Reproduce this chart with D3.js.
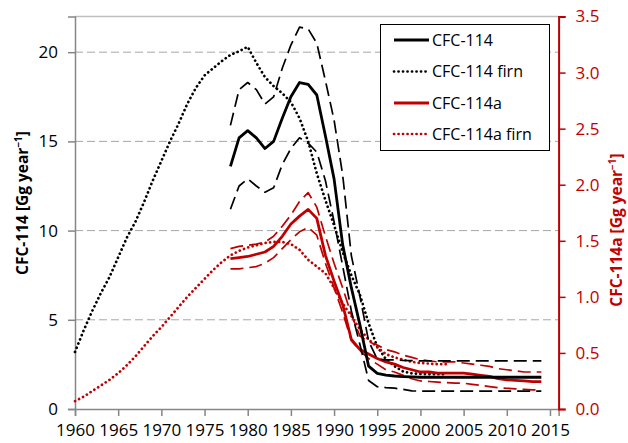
<!DOCTYPE html>
<html><head><meta charset="utf-8">
<script src="https://cdn.jsdelivr.net/npm/d3@7"></script>
<style>
body{margin:0;background:#fff;}
svg{display:block;font-family:"Open Sans",sans-serif;}
</style></head>
<body><svg id="chart" width="628" height="443"></svg>
<script>
// ---- data ----
const firnYears = [1960,1961,1962,1963,1964,1965,1966,1967,1968,1969,1970,1971,1972,1973,1974,1975,1976,1977,1978,1979,1980,1981,1982,1983,1984,1985,1986,1987,1988,1989,1990,1991,1992,1993,1994,1995,1996,1997,1998,1999,2000,2001,2002,2003];
const cfc114Firn = [3.2,4.4,5.5,6.5,7.4,8.5,9.6,10.5,11.6,12.8,13.9,15.0,16.0,17.1,18.0,18.7,19.1,19.5,19.85,20.05,20.3,19.4,18.6,18.1,17.7,17.2,16.3,15.0,13.2,11.7,10.3,8.8,7.5,6.4,4.8,3.5,2.8,2.4,2.1,2.0,1.97,1.95,1.95,1.95];
const cfc114aFirn = [0.07,0.11,0.16,0.21,0.26,0.32,0.39,0.47,0.56,0.65,0.73,0.82,0.91,1.00,1.08,1.16,1.24,1.31,1.37,1.41,1.44,1.46,1.48,1.49,1.49,1.47,1.42,1.33,1.27,1.21,1.08,0.94,0.83,0.71,0.62,0.55,0.49,0.46,0.44,0.42,0.41,0.405,0.40,0.40];

const modelYears = [1978,1979,1980,1981,1982,1983,1984,1985,1986,1987,1988,1989,1990,1991,1992,1993,1994,1995,1996,1997,1998,1999,2000,2001,2002,2003,2004,2005,2006,2007,2008,2009,2010,2011,2012,2013,2014];
const cfc114 = [13.6,15.2,15.6,15.2,14.6,15.0,16.3,17.5,18.3,18.2,17.6,15.3,12.9,9.2,6.8,4.7,2.4,2.0,1.9,1.85,1.82,1.8,1.78,1.78,1.78,1.78,1.78,1.78,1.78,1.78,1.78,1.78,1.78,1.78,1.78,1.78,1.78];
const cfc114Hi = [15.9,17.9,18.3,17.9,17.1,17.5,19.1,20.4,21.4,21.3,20.5,18.4,16.2,13.1,8.6,6.3,3.8,2.8,2.75,2.75,2.72,2.71,2.7,2.7,2.7,2.7,2.7,2.7,2.7,2.7,2.7,2.7,2.7,2.7,2.7,2.7,2.7];
const cfc114Lo = [11.2,12.5,12.9,12.5,12.15,12.4,13.7,14.6,15.2,14.9,14.4,12.8,10.5,8.0,5.5,3.6,1.6,1.25,1.2,1.17,1.1,1.02,1.0,1.0,1.0,1.0,1.0,1.0,1.0,1.0,1.0,1.0,1.0,1.0,1.0,1.0,1.0];
const cfc114a = [1.34,1.35,1.36,1.38,1.40,1.45,1.54,1.65,1.72,1.78,1.70,1.37,1.14,0.93,0.62,0.53,0.49,0.45,0.42,0.40,0.37,0.35,0.33,0.33,0.32,0.32,0.32,0.32,0.31,0.30,0.29,0.27,0.26,0.255,0.25,0.245,0.245];
const cfc114aHi = [1.43,1.45,1.46,1.47,1.49,1.54,1.63,1.73,1.85,1.93,1.80,1.54,1.30,1.08,0.84,0.65,0.60,0.57,0.53,0.51,0.48,0.46,0.44,0.43,0.42,0.42,0.42,0.41,0.40,0.39,0.38,0.36,0.35,0.34,0.33,0.33,0.33];
const cfc114aLo = [1.25,1.25,1.26,1.27,1.30,1.35,1.43,1.51,1.58,1.62,1.55,1.30,1.08,0.86,0.61,0.52,0.45,0.40,0.35,0.33,0.30,0.27,0.25,0.245,0.24,0.235,0.23,0.23,0.22,0.21,0.20,0.19,0.185,0.18,0.175,0.17,0.17];

const xTicks = [1960,1965,1970,1975,1980,1985,1990,1995,2000,2005,2010,2015];
const yLeftTicks = [0,5,10,15,20];
const yRightTicks = [0,0.5,1.0,1.5,2.0,2.5,3.0,3.5];
const legendLabels = ["CFC-114","CFC-114 firn","CFC-114a","CFC-114a firn"];

// ---- layout ----
const RED = "#C00000", AXIS = "#868686", GRID = "#A6A6A6";
const FONT = "'Open Sans',sans-serif";
const svg = d3.select("#chart");
const X0 = 75, X1 = 558.6, Y0 = 409, Y1 = 16.5;
const x = d3.scaleLinear([1960,2016],[X0,X1]);
const yL = d3.scaleLinear([0,22],[Y0,Y1]);
const yR = d3.scaleLinear([0,3.5],[Y0,Y1]);

// gridlines
svg.append("g").selectAll("line").data(yLeftTicks.filter(d=>d>0)).join("line")
  .attr("x1",X0).attr("x2",X1).attr("y1",d=>yL(d)).attr("y2",d=>yL(d))
  .attr("stroke",GRID).attr("stroke-width",1).attr("stroke-dasharray","8,4");
// top border
svg.append("line").attr("x1",X0).attr("x2",X1).attr("y1",Y1).attr("y2",Y1)
  .attr("stroke","#BFBFBF").attr("stroke-width",1.5);

// axes
const gx = svg.append("g").attr("transform",`translate(0,${Y0})`)
  .call(d3.axisBottom(x).tickValues(xTicks).tickFormat(d3.format("d")).tickSize(7).tickPadding(8));
const gl = svg.append("g").attr("transform",`translate(${X0},0)`)
  .call(d3.axisLeft(yL).tickValues(yLeftTicks).tickFormat(d3.format("d")).tickSize(7).tickPadding(10));
const gr = svg.append("g").attr("transform",`translate(${X1},0)`)
  .call(d3.axisRight(yR).tickValues(yRightTicks).tickFormat(d3.format(".1f")).tickSize(7).tickPadding(10));
[gx,gl].forEach(g=>{
  g.select(".domain").attr("stroke",AXIS).attr("stroke-width",1.5);
  g.selectAll(".tick line").attr("stroke",AXIS).attr("stroke-width",1.5);
  g.selectAll("text").attr("fill","#000").style("font-size","17px").style("font-family",FONT);
});
gr.select(".domain").attr("stroke",RED).attr("stroke-width",2);
gr.selectAll(".tick line").attr("stroke",RED).attr("stroke-width",1.5);
gr.selectAll("text").attr("fill",RED).style("font-size","17px").style("font-family",FONT);

// axis titles
function title(xp, yp, color, label){
  const t = svg.append("text").attr("transform",`translate(${xp},${yp}) rotate(-90)`)
    .attr("text-anchor","middle").attr("fill",color)
    .style("font-weight","bold").style("font-size","15.5px");
  t.append("tspan").text(label+" [Gg year");
  t.append("tspan").attr("dy",-6).style("font-size","10px").text("−1");
  t.append("tspan").attr("dy",6).text("]");
}
title(28, 203, "#000", "CFC-114");
title(622, 230, RED, "CFC-114a");

// series
const styles = {
  solid:{w:2.8,dash:null,cap:"butt"},
  dash:{w:1.7,dash:"13,6",cap:"butt"},
  dot:{w:2.7,dash:"0.1,4.4",cap:"round"}
};
function draw(years, vals, yScale, color, st){
  const s = styles[st];
  const line = d3.line().x((d,i)=>x(years[i])).y(d=>yScale(d));
  const p = svg.append("path").datum(vals).attr("d",line).attr("fill","none")
    .attr("stroke",color).attr("stroke-width",s.w).attr("stroke-linecap",s.cap).attr("stroke-linejoin","round");
  if(s.dash) p.attr("stroke-dasharray",s.dash);
}
draw(firnYears, cfc114Firn, yL, "#000", "dot");
draw(firnYears, cfc114aFirn, yR, RED, "dot");
draw(modelYears, cfc114aHi, yR, RED, "dash");
draw(modelYears, cfc114aLo, yR, RED, "dash");
draw(modelYears, cfc114a, yR, RED, "solid");
draw(modelYears, cfc114Hi, yL, "#000", "dash");
draw(modelYears, cfc114Lo, yL, "#000", "dash");
draw(modelYears, cfc114, yL, "#000", "solid");

// legend
const lg = svg.append("g");
lg.append("rect").attr("x",380.5).attr("y",24.5).attr("width",169).attr("height",126)
  .attr("fill","#fff").attr("stroke","#000").attr("stroke-width",1);
const legendStyles = [["#000","solid"],["#000","dot"],[RED,"solid"],[RED,"dot"]];
const rowY = [40,71.5,103,134];
legendLabels.forEach((lab,i)=>{
  const [c,st] = legendStyles[i]; const s = styles[st];
  const l = lg.append("line").attr("x1",394).attr("x2",429).attr("y1",rowY[i]).attr("y2",rowY[i])
    .attr("stroke",c).attr("stroke-width",s.w).attr("stroke-linecap",s.cap);
  if(s.dash) l.attr("stroke-dasharray",s.dash);
  lg.append("text").attr("x",432).attr("y",rowY[i]).attr("dy","0.36em")
    .style("font-size","16px").style("font-family",FONT).attr("fill","#000").text(lab);
});
</script></body></html>
